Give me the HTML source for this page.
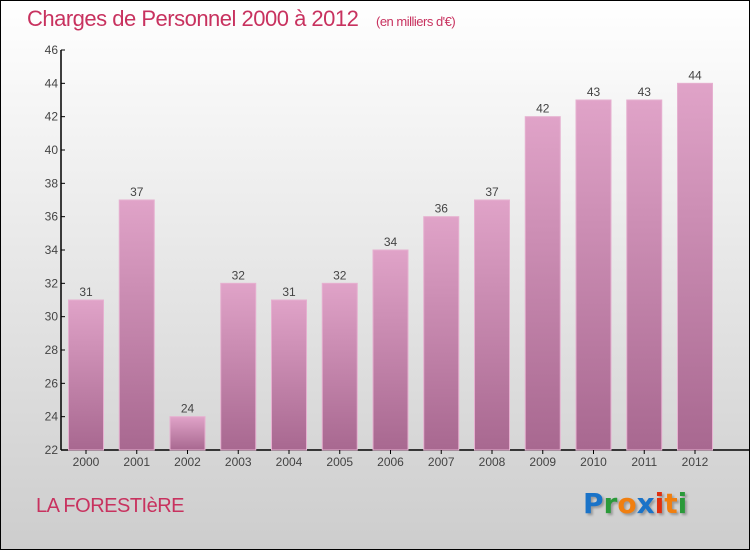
<!DOCTYPE html>
<html><head><meta charset="utf-8"><style>
body{margin:0}
#wrap{position:relative;width:748px;height:548px;border:1px solid #000;background:linear-gradient(#ffffff,#cdcdcd);font-family:"Liberation Sans",sans-serif;overflow:hidden}
.t{position:absolute;white-space:nowrap}
</style></head><body>
<div id="wrap">
<div class="t" style="left:26px;top:5px;font-size:22px;color:#c8325f;letter-spacing:-0.5px">Charges de Personnel 2000 à 2012 <span style="font-size:13px;margin-left:12px">(en milliers d'€)</span></div>
<div class="t" style="left:35px;top:494px;font-size:20px;color:#c8325f;letter-spacing:-0.5px">LA FORESTIèRE</div>
<div class="t" style="left:582px;top:486px;font-size:28px;font-family:'DejaVu Sans',sans-serif;font-weight:bold;text-shadow:2px 2px 2px #999"><span style="color:#1a73c8">P</span><span style="color:#2a9a3a">r</span><span style="color:#f07f10">o</span><span style="color:#1a73c8">x</span><span style="color:#e03010">i</span><span style="color:#f07f10">t</span><span style="color:#2a9a3a">i</span></div>
<svg id="chart" width="748" height="548" style="position:absolute;left:0;top:0">
<defs><linearGradient id="bg" x1="0" y1="0" x2="0" y2="1"><stop offset="0" stop-color="#e0a3c8"/><stop offset="1" stop-color="#a86890"/></linearGradient></defs>
</svg>
</div>
<script>
const categories=["2000","2001","2002","2003","2004","2005","2006","2007","2008","2009","2010","2011","2012"];
const values=[31,37,24,32,31,32,34,36,37,42,43,43,44];
const yTicks=[22,24,26,28,30,32,34,36,38,40,42,44,46];
const svg=document.getElementById('chart');
const NS='http://www.w3.org/2000/svg';
const yMin=22,yMax=46,yTop=49,yBot=449,x0=60,x1=748;
function y(v){return yBot-(v-yMin)/(yMax-yMin)*(yBot-yTop);}
function xc(i){return 85+i*50.75;}
function mk(t,a){const e=document.createElementNS(NS,t);for(const k in a)e.setAttribute(k,a[k]);svg.appendChild(e);return e;}
let ax=mk('line',{x1:x0,y1:yTop,x2:x0,y2:yBot,stroke:'#000','stroke-width':1.5});


let bx=mk('line',{x1:x0,y1:yBot,x2:x1,y2:yBot,stroke:'#000','stroke-width':1.5});


yTicks.forEach(v=>{
  mk('line',{x1:x0,y1:y(v),x2:x0+4,y2:y(v),stroke:'#000'});
  const t=mk('text',{x:x0-3,y:y(v)+4,'text-anchor':'end','font-size':12,fill:'#444','font-family':'Liberation Sans'});
  t.textContent=v;
  
  
});
categories.forEach((c,i)=>{
  const cx=xc(i),w=35;
  const r=mk('rect',{x:cx-w/2,y:y(values[i]),width:w,height:yBot-y(values[i]),fill:'url(#bg)',stroke:'#e6b0d0','stroke-width':1});
  
  
  mk('line',{x1:cx,y1:yBot,x2:cx,y2:yBot+4,stroke:'#000'});
  const l=mk('text',{x:cx,y:yBot+16,'text-anchor':'middle','font-size':12,fill:'#444','font-family':'Liberation Sans'});
  l.textContent=c;
  
  
  const v=mk('text',{x:cx,y:y(values[i])-4,'text-anchor':'middle','font-size':12,fill:'#444','font-family':'Liberation Sans'});
  v.textContent=values[i];
  
  
});
</script>
</body></html>
